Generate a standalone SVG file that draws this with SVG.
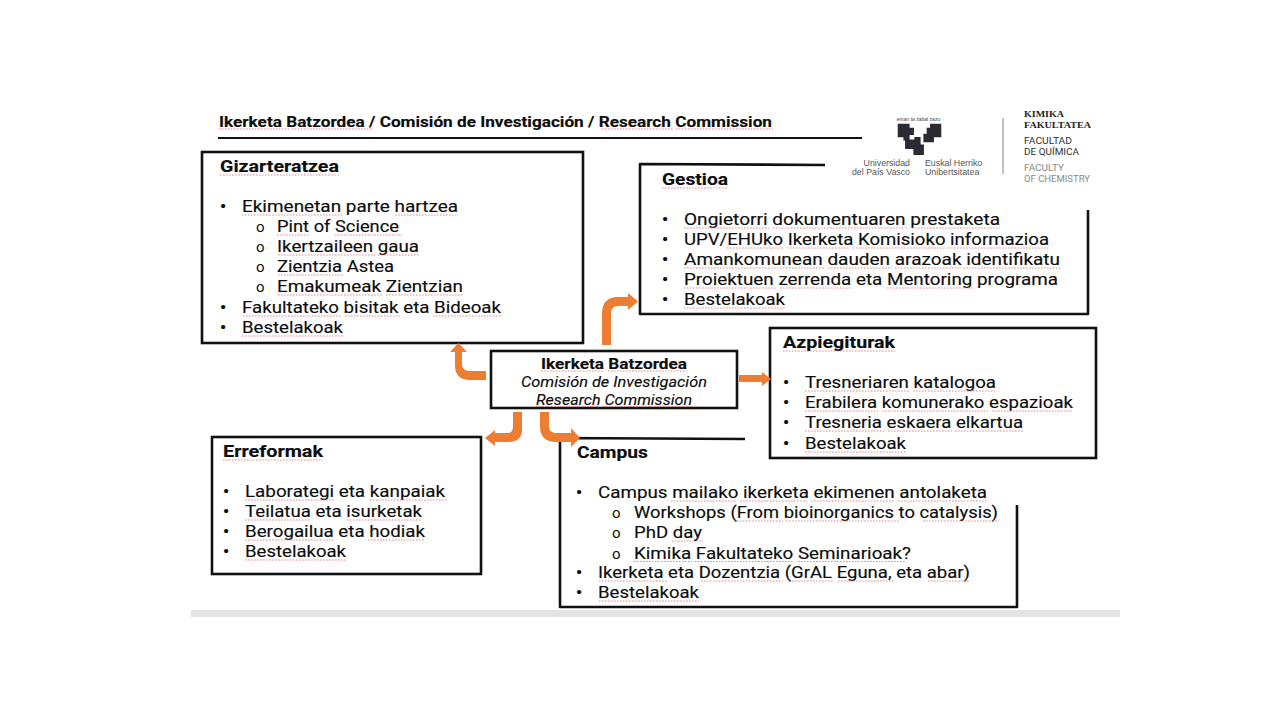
<svg xmlns="http://www.w3.org/2000/svg" width="1280" height="720" viewBox="0 0 1280 720">
<style>
text{font-family:Roboto,"Noto Sans","DejaVu Sans",sans-serif;fill:#0d0d0d;font-size:16.200px;stroke:#0d0d0d;stroke-width:.15}
.t{font-weight:700;font-size:16.500px}
.b{font-weight:700;font-size:17px}
.r{font-size:15px;stroke:none}
.i{font-style:italic;font-size:15px}
.c{font-weight:700;font-size:15px}
.h{font-weight:700;font-size:15.500px}
.box{fill:#fff;stroke:#111;stroke-width:2.600}
.edge{fill:none;stroke:#111;stroke-width:2.600;stroke-linejoin:round}
.arrow{fill:#ed7d31}
.sq{fill:none;stroke:#e5626a;stroke-width:1;stroke-dasharray:1.600 1.400;opacity:.75}
.lg{font-family:"Liberation Sans",Arial,sans-serif;font-size:8.800px;fill:#555;stroke:none}
.k1{font-family:"Liberation Serif",serif;font-weight:700;font-size:8.600px;fill:#222;stroke:none}
.k2{font-size:8.800px;fill:#333;stroke:none}
.k3{font-size:8.800px;fill:#8a8a8a;stroke:none}
.m{font-size:5px;fill:#444;stroke:none;font-family:"Liberation Sans",sans-serif}
.sh{fill:#2a2a33;stroke:#2a2a33;stroke-width:1.200}
</style>
<rect width="1280" height="720" fill="#fff"/>
<rect x="191" y="610" width="929" height="7" fill="#e4e4e4"/>

<g id="header">
<text class="h" x="219" y="127" textLength="553" lengthAdjust="spacingAndGlyphs">Ikerketa Batzordea / Comisión de Investigación / Research Commission</text>
<path d="M218 138H862" stroke="#111" stroke-width="2" fill="none"/>
</g>

<g id="logo">
<text class="m" x="918.500" y="120.500" text-anchor="middle">eman ta zabal zazu</text>
<path class="sh" d="M898.300 124.300H909V128.300H913.300V134.300H909V140H915V137.700H920V145H923.300V154.300H914V148.300H905.700V140H904V136.700H898.300Z"/>
<path class="sh" d="M927.300 128.300H930.700V124.300H940.700V136.700H933.300V141.700H924V134.300H927.300Z"/>
<text class="lg" x="910" y="166" text-anchor="end">Universidad</text>
<text class="lg" x="910" y="175" text-anchor="end">del País Vasco</text>
<text class="lg" x="925" y="166">Euskal Herriko</text>
<text class="lg" x="925" y="175">Unibertsitatea</text>
<path d="M1003 118V174" stroke="#999" stroke-width="1.200"/>
<text class="k1" x="1024" y="117" textLength="40" lengthAdjust="spacingAndGlyphs">KIMIKA</text>
<text class="k1" x="1024" y="128" textLength="67" lengthAdjust="spacingAndGlyphs">FAKULTATEA</text>
<text class="k2" x="1024" y="144" textLength="48" lengthAdjust="spacingAndGlyphs">FACULTAD</text>
<text class="k2" x="1024" y="155" textLength="55" lengthAdjust="spacingAndGlyphs">DE QUÍMICA</text>
<text class="k3" x="1024" y="171" textLength="40" lengthAdjust="spacingAndGlyphs">FACULTY</text>
<text class="k3" x="1024" y="182" textLength="66" lengthAdjust="spacingAndGlyphs">OF CHEMISTRY</text>
</g>

<g id="gizarteratzea">
<rect class="box" x="202" y="152" width="381" height="191"/>
<text class="t" x="220" y="172" textLength="119" lengthAdjust="spacingAndGlyphs">Gizarteratzea</text>
<text class="b" x="220" y="212">•</text><text x="242" y="212" textLength="216" lengthAdjust="spacingAndGlyphs">Ekimenetan parte hartzea</text>
<text class="r" x="256" y="232">o</text><text x="277" y="232" textLength="122" lengthAdjust="spacingAndGlyphs">Pint of Science</text>
<text class="r" x="256" y="252">o</text><text x="277" y="252" textLength="142" lengthAdjust="spacingAndGlyphs">Ikertzaileen gaua</text>
<text class="r" x="256" y="272">o</text><text x="277" y="272" textLength="117" lengthAdjust="spacingAndGlyphs">Zientzia Astea</text>
<text class="r" x="256" y="292">o</text><text x="277" y="292" textLength="186" lengthAdjust="spacingAndGlyphs">Emakumeak Zientzian</text>
<text class="b" x="220" y="313">•</text><text x="242" y="313" textLength="259" lengthAdjust="spacingAndGlyphs">Fakultateko bisitak eta Bideoak</text>
<text class="b" x="220" y="333">•</text><text x="242" y="333" textLength="101" lengthAdjust="spacingAndGlyphs">Bestelakoak</text>
</g>

<g id="gestioa">
<path class="edge" d="M825 165L640 164V314H1088V210"/>
<text class="t" x="662" y="185" textLength="66" lengthAdjust="spacingAndGlyphs">Gestioa</text>
<text class="b" x="662" y="225">•</text><text x="684" y="225" textLength="316" lengthAdjust="spacingAndGlyphs">Ongietorri dokumentuaren prestaketa</text>
<text class="b" x="662" y="245">•</text><text x="684" y="245" textLength="365" lengthAdjust="spacingAndGlyphs">UPV/EHUko Ikerketa Komisioko informazioa</text>
<text class="b" x="662" y="265">•</text><text x="684" y="265" textLength="376" lengthAdjust="spacingAndGlyphs">Amankomunean dauden arazoak identifikatu</text>
<text class="b" x="662" y="285">•</text><text x="684" y="285" textLength="374" lengthAdjust="spacingAndGlyphs">Proiektuen zerrenda eta Mentoring programa</text>
<text class="b" x="662" y="305">•</text><text x="684" y="305" textLength="101" lengthAdjust="spacingAndGlyphs">Bestelakoak</text>
</g>

<g id="azpiegiturak">
<rect class="box" x="770" y="328" width="326" height="130"/>
<text class="t" x="783" y="348" textLength="112" lengthAdjust="spacingAndGlyphs">Azpiegiturak</text>
<text class="b" x="783" y="388">•</text><text x="805" y="388" textLength="191" lengthAdjust="spacingAndGlyphs">Tresneriaren katalogoa</text>
<text class="b" x="783" y="408">•</text><text x="805" y="408" textLength="268" lengthAdjust="spacingAndGlyphs">Erabilera komunerako espazioak</text>
<text class="b" x="783" y="428">•</text><text x="805" y="428" textLength="218" lengthAdjust="spacingAndGlyphs">Tresneria eskaera elkartua</text>
<text class="b" x="783" y="449">•</text><text x="805" y="449" textLength="101" lengthAdjust="spacingAndGlyphs">Bestelakoak</text>
</g>

<g id="center">
<rect class="box" x="491" y="351" width="246" height="57"/>
<text class="c" x="541" y="369" textLength="146" lengthAdjust="spacingAndGlyphs">Ikerketa Batzordea</text>
<text class="i" x="521" y="387" textLength="186" lengthAdjust="spacingAndGlyphs">Comisión de Investigación</text>
<text class="i" x="536" y="405" textLength="156" lengthAdjust="spacingAndGlyphs">Research Commission</text>
</g>

<g id="erreformak">
<rect class="box" x="212" y="437" width="269" height="137"/>
<text class="t" x="223" y="457" textLength="100" lengthAdjust="spacingAndGlyphs">Erreformak</text>
<text class="b" x="223" y="497">•</text><text x="245" y="497" textLength="200" lengthAdjust="spacingAndGlyphs">Laborategi eta kanpaiak</text>
<text class="b" x="223" y="517">•</text><text x="245" y="517" textLength="177" lengthAdjust="spacingAndGlyphs">Teilatua eta isurketak</text>
<text class="b" x="223" y="537">•</text><text x="245" y="537" textLength="180" lengthAdjust="spacingAndGlyphs">Berogailua eta hodiak</text>
<text class="b" x="223" y="557">•</text><text x="245" y="557" textLength="101" lengthAdjust="spacingAndGlyphs">Bestelakoak</text>
</g>

<g id="campus">
<path class="edge" d="M745 439L560 438V607H1017V505"/>
<text class="t" x="577" y="458" textLength="71" lengthAdjust="spacingAndGlyphs">Campus</text>
<text class="b" x="576" y="498">•</text><text x="598" y="498" textLength="389" lengthAdjust="spacingAndGlyphs">Campus mailako ikerketa ekimenen antolaketa</text>
<text class="r" x="612" y="518">o</text><text x="634" y="518" textLength="364" lengthAdjust="spacingAndGlyphs">Workshops (From bioinorganics to catalysis)</text>
<text class="r" x="612" y="538">o</text><text x="634" y="538" textLength="68" lengthAdjust="spacingAndGlyphs">PhD day</text>
<text class="r" x="612" y="558.500">o</text><text x="634" y="558.500" textLength="277" lengthAdjust="spacingAndGlyphs">Kimika Fakultateko Seminarioak?</text>
<text class="b" x="576" y="578">•</text><text x="598" y="578" textLength="372" lengthAdjust="spacingAndGlyphs">Ikerketa eta Dozentzia (GrAL Eguna, eta abar)</text>
<text class="b" x="576" y="598">•</text><text x="598" y="598" textLength="101" lengthAdjust="spacingAndGlyphs">Bestelakoak</text>
</g>

<g id="connectors">
<path class="arrow" d="M602 345V314Q602 297 618 297H628V293L638 301.500L628 310V306H618Q611 306 611 314V345Z"/>
<path class="arrow" d="M486 371H470Q462 371 462 364V352H467L458.500 343L450 352H455V365Q455 380 470 380H486Z"/>
<path class="arrow" d="M739 375H762V372L771 379L762 386V382H739Z"/>
<path class="arrow" d="M513 412H522V430Q522 442 508 442H495V446L485 438L495 430V433H507Q513 433 513 427Z"/>
<path class="arrow" d="M540 412H549V426Q549 433 556 433H571V428L580 438L571 447V442H556Q540 442 540 426Z"/>
</g>

<path class="sq" d="M219 129H289M292 129H373M602 129H673M676 129H773
M220 175H339M242 215H342M395 215H458M277 235H310M335 235H402M278 255H375M378 255H420M278 275H343M278 295H382M386 295H463M243 316H341M345 316H400M433 316H502M242 336H343
M662 188H728M684 228H769M773 228H908M912 228H1000M727 248H783M787 248H850M853 248H945M948 248H1050M684 268H825M828 268H892M895 268H960M963 268H1062M684 288H777M780 288H852M887 288H973M684 308H785
M783 351H895M805 391H910M913 391H995M805 411H878M882 411H988M992 411H1073M805 431H885M888 431H952M955 431H1023M805 452H906
M541 371H604M608 371H687M536 406.500H599M603 406.500H692
M223 460H323M245 500H335M370 500H447M245 520H310M347 520H422M245 540H335M368 540H425M245 560H346
M671 501H736M740 501H807M811 501H894M898 501H988M734 521H783M786 521H899M923 521H999M672 541H703M634 561.500H692M695 561.500H794M798 561.500H905M599 581H668M701 581H783M792 581H834M838 581H894M928 581H970M599 601H699"/>
</svg>
